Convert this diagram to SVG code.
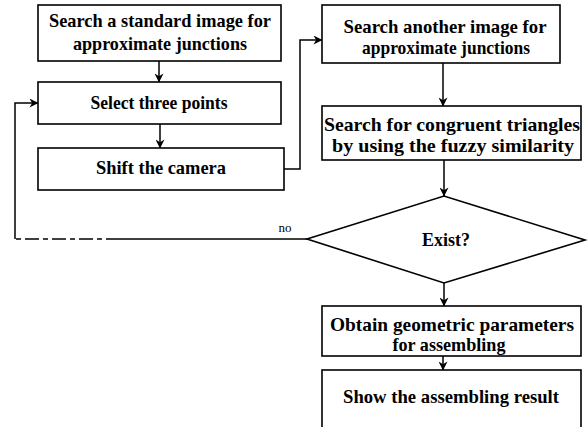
<svg xmlns="http://www.w3.org/2000/svg" width="588" height="427" viewBox="0 0 588 427">
  <style>
    .box { fill: #fff; stroke: #000; stroke-width: 1.6; }
    .lbl { font-family: "Liberation Serif", "Times New Roman", serif; font-weight: bold; font-size: 19px; fill: #000; text-anchor: middle; }
    .note { font-family: "Liberation Serif", "Times New Roman", serif; font-size: 13px; fill: #000; text-anchor: middle; }
    .wire { fill: none; stroke: #000; stroke-width: 1.5; }
  </style>
  <defs>
    <marker id="arrow" viewBox="0 0 10 10" refX="9.5" refY="5" markerWidth="9" markerHeight="9" markerUnits="userSpaceOnUse" orient="auto">
      <path d="M0,0 L10,5 L0,10 L3,5 z" fill="#000"/>
    </marker>
  </defs>
  <rect width="588" height="427" fill="#fff"/>

  <g id="connectors">
    <path class="wire" d="M159,61 V82" marker-end="url(#arrow)"/>
    <path class="wire" d="M160,124 V148" marker-end="url(#arrow)"/>
    <path class="wire" d="M284,169 H300 V40 H322" marker-end="url(#arrow)"/>
    <path class="wire" d="M443,63 V106" marker-end="url(#arrow)"/>
    <path class="wire" d="M444,160 V196" marker-end="url(#arrow)"/>
    <path class="wire" d="M307,239 H120"/>
    <path class="wire" d="M120,239 H15" stroke-dasharray="14,4,5,4"/>
    <path class="wire" d="M15,239 V103 H38" marker-end="url(#arrow)"/>
    <path class="wire" d="M444,283 V306" marker-end="url(#arrow)"/>
    <path class="wire" d="M443,356 V370" marker-end="url(#arrow)"/>
    <text class="note" x="285" y="232">no</text>
  </g>

  <g id="search-standard">
    <rect class="box" x="38" y="5" width="243" height="56"/>
    <text class="lbl" x="160" y="27" textLength="222" lengthAdjust="spacingAndGlyphs">Search a standard image for</text>
    <text class="lbl" x="160" y="50" textLength="174" lengthAdjust="spacingAndGlyphs">approximate junctions</text>
  </g>

  <g id="select-points">
    <rect class="box" x="38" y="82" width="243" height="42"/>
    <text class="lbl" x="159" y="109" textLength="137" lengthAdjust="spacingAndGlyphs">Select three points</text>
  </g>

  <g id="shift-camera">
    <rect class="box" x="38" y="148" width="246" height="42"/>
    <text class="lbl" x="161" y="174" textLength="130" lengthAdjust="spacingAndGlyphs">Shift the camera</text>
  </g>

  <g id="search-another">
    <rect class="box" x="322" y="5" width="238" height="58"/>
    <text class="lbl" x="445" y="33" textLength="203" lengthAdjust="spacingAndGlyphs">Search another image for</text>
    <text class="lbl" x="446" y="54" textLength="168" lengthAdjust="spacingAndGlyphs">approximate junctions</text>
  </g>

  <g id="search-triangles">
    <rect class="box" x="322" y="106" width="259" height="54"/>
    <text class="lbl" x="452" y="131" textLength="256" lengthAdjust="spacingAndGlyphs">Search for congruent triangles</text>
    <text class="lbl" x="453" y="152" textLength="242" lengthAdjust="spacingAndGlyphs">by using the fuzzy similarity</text>
  </g>

  <g id="exist">
    <polygon class="box" points="307,239 444,196 585,240 444,283"/>
    <text class="lbl" x="446" y="246" textLength="48" lengthAdjust="spacingAndGlyphs">Exist?</text>
  </g>

  <g id="geometric-params">
    <rect class="box" x="322" y="306" width="259" height="50"/>
    <text class="lbl" x="452" y="331" textLength="244" lengthAdjust="spacingAndGlyphs">Obtain geometric parameters</text>
    <text class="lbl" x="449" y="351" textLength="113" lengthAdjust="spacingAndGlyphs">for assembling</text>
  </g>

  <g id="show-result">
    <rect class="box" x="322" y="370" width="259" height="60"/>
    <text class="lbl" x="451" y="403" textLength="216" lengthAdjust="spacingAndGlyphs">Show the assembling result</text>
  </g>
</svg>
